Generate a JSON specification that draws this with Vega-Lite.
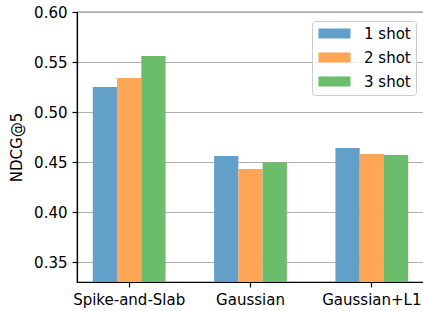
{
  "$schema": "https://vega.github.io/schema/vega-lite/v6.json",
  "width": 347,
  "height": 270,
  "autosize": "none",
  "padding": {"left": 77, "top": 12, "right": 0, "bottom": 29},
  "data": {
    "values": [
      {"method": "Spike-and-Slab", "shot": "1 shot", "ndcg": 0.525},
      {"method": "Spike-and-Slab", "shot": "2 shot", "ndcg": 0.534},
      {"method": "Spike-and-Slab", "shot": "3 shot", "ndcg": 0.556},
      {"method": "Gaussian", "shot": "1 shot", "ndcg": 0.456},
      {"method": "Gaussian", "shot": "2 shot", "ndcg": 0.443},
      {"method": "Gaussian", "shot": "3 shot", "ndcg": 0.4497},
      {"method": "Gaussian+L1", "shot": "1 shot", "ndcg": 0.464},
      {"method": "Gaussian+L1", "shot": "2 shot", "ndcg": 0.458},
      {"method": "Gaussian+L1", "shot": "3 shot", "ndcg": 0.457}
    ]
  },
  "mark": {"type": "bar", "clip": true},
  "encoding": {
    "x": {
      "field": "method",
      "type": "nominal",
      "sort": ["Spike-and-Slab", "Gaussian", "Gaussian+L1"],
      "scale": {"paddingInner": 0.4, "paddingOuter": 0.13},
      "axis": {"title": null, "labelAngle": 0, "grid": false, "labelPadding": 5}
    },
    "xOffset": {
      "field": "shot",
      "type": "nominal",
      "scale": {"paddingInner": 0, "paddingOuter": 0}
    },
    "y": {
      "field": "ndcg",
      "type": "quantitative",
      "scale": {"domain": [0.33, 0.6], "zero": false, "nice": false},
      "axis": {
        "title": "NDCG@5",
        "values": [0.35, 0.4, 0.45, 0.5, 0.55, 0.6],
        "format": ".2f",
        "grid": true,
        "gridColor": "#b0b0b0",
        "gridWidth": 1.2,
        "labelPadding": 5,
        "titlePadding": 9
      }
    },
    "color": {
      "field": "shot",
      "type": "nominal",
      "scale": {"domain": ["1 shot", "2 shot", "3 shot"], "range": ["#62a0ca", "#ffa556", "#6bbc6b"]},
      "legend": {
        "title": null,
        "orient": "none",
        "legendX": 235,
        "legendY": 9,
        "symbolType": "M-0.857,-0.714H3.714V0.714H-0.857Z",
        "symbolSize": 196,
        "symbolStrokeWidth": 0,
        "symbolOpacity": 1,
        "labelOffset": 32,
        "labelFontSize": 15,
        "labelFont": "DejaVu Sans",
        "labelColor": "black",
        "padding": 5,
        "rowPadding": 8,
        "fillColor": "rgba(255,255,255,0.8)",
        "strokeColor": "#cccccc",
        "cornerRadius": 3
      }
    }
  },
  "config": {
    "view": {"stroke": "black", "strokeWidth": 1.2},
    "axis": {
      "zindex": 1,
      "labelFont": "DejaVu Sans",
      "labelFontSize": 15,
      "labelColor": "black",
      "titleFont": "DejaVu Sans",
      "titleFontSize": 15,
      "titleFontWeight": "normal",
      "titleColor": "black",
      "domainColor": "black",
      "domainWidth": 1.2,
      "tickColor": "black",
      "tickWidth": 1.2,
      "tickSize": 5
    }
  }
}
